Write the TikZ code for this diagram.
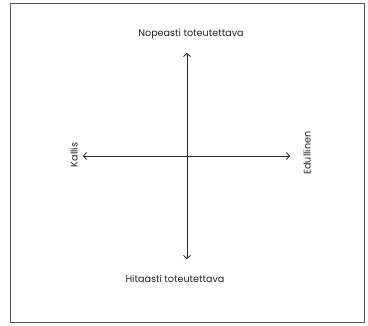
\documentclass[tikz,border=0pt]{standalone}
\usepackage{fontspec}
\setmainfont{Poppins}
\usetikzlibrary{arrows.meta}
\definecolor{txt}{HTML}{222222}
\definecolor{frame}{HTML}{555555}
\tikzset{
  lbl/.style={font=\fontsize{9.6}{11}\selectfont, text=txt, inner sep=0pt},
  axis/.style={line width=0.8pt, draw=black!85, {Straight Barb[length=3pt,width=7pt]}-{Straight Barb[length=3pt,width=7pt]}}
}
\begin{document}
\begin{tikzpicture}[x=1pt,y=1pt]
\useasboundingbox (0,0) rectangle (368,326);
\draw[frame, line width=0.8pt] (10,4) rectangle (364,323);
\coordinate (top) at (187,273);
\coordinate (bot) at (187,67);
\coordinate (lft) at (83,170);
\coordinate (rgt) at (290,170);
\draw[axis] (bot) -- (top);
\draw[axis] (lft) -- (rgt);
\node[lbl] (n) at (191,292) {Nopeasti toteutettava};
\node[lbl] (s) at (175,47) {Hitaasti toteutettava};
\node[lbl, rotate=90] (w) at (74,171) {Kallis};
\node[lbl, rotate=90] (e) at (307,173) {Edullinen};
\end{tikzpicture}
\end{document}
